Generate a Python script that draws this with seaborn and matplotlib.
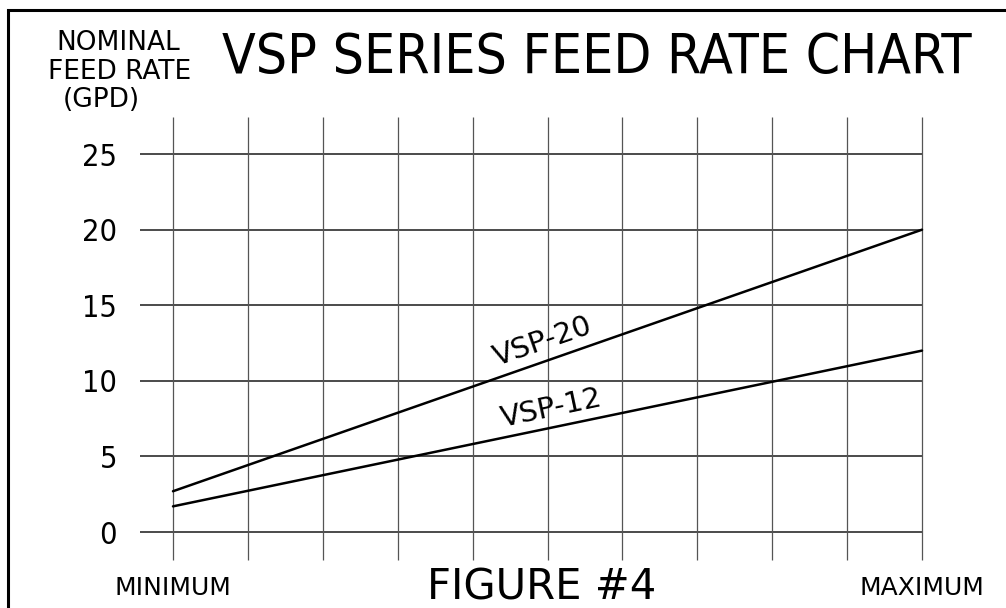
import numpy as np
import pandas as pd
import seaborn as sns
import matplotlib.pyplot as plt
from matplotlib.patches import Rectangle

# chart values
setting = [0, 10]                  # dial position, MINIMUM .. MAXIMUM
vsp20 = [2.7, 20.0]                # GPD
vsp12 = [1.7, 12.0]                # GPD
models = ["VSP-20", "VSP-12"]
y_ticks = [0, 5, 10, 15, 20, 25]
x_grid = list(range(11))
x_tick_labels = ["MINIMUM", "MAXIMUM"]

df = pd.DataFrame({
    "setting": setting * 2,
    "gpd": vsp20 + vsp12,
    "model": [models[0]] * 2 + [models[1]] * 2,
})

sns.set_style("white")
plt.rcParams["font.family"] = ["DejaVu Sans"]
plt.rcParams["text.color"] = "black"
plt.rcParams["xtick.color"] = "black"
plt.rcParams["ytick.color"] = "black"

fig = plt.figure(figsize=(10.06, 6.08), dpi=100)
ax = fig.add_axes([0.1273, 0.0702, 0.8041, 0.746])

# grid, drawn by hand because rows and columns have different extents
ax.hlines(y_ticks, -0.44, 10, color="#1a1a1a", lw=1.1, zorder=1)
ax.vlines(x_grid, -1.85, 27.45, color="#555555", lw=0.9, zorder=1)

sns.lineplot(data=df, x="setting", y="gpd", hue="model",
             palette=["black", "black"], lw=1.8, legend=False, ax=ax, zorder=3)

ax.set_xlim(-0.6, 10.2)
ax.set_ylim(-2.2, 27.8)
ax.set_yticks(y_ticks)
ax.set_yticklabels([str(v) for v in y_ticks], fontsize=22, fontstretch="condensed")
ax.set_xticks([setting[0], setting[-1]])
ax.set_xticklabels(x_tick_labels, fontsize=18)
ax.tick_params(axis="y", length=0, pad=8)
ax.tick_params(axis="x", length=0, pad=8)
ax.set_xlabel("")
ax.set_ylabel("")
for s in ax.spines.values():
    s.set_visible(False)

# line labels
ax.text(4.94, 12.6, models[0], rotation=19, ha="center", va="center", fontsize=21)
ax.text(5.05, 8.2, models[1], rotation=12, ha="center", va="center", fontsize=21)

# titles and captions
fig.text(597 / 1006, 1 - 73 / 608, "VSP SERIES FEED RATE CHART",
         ha="center", va="baseline", fontsize=39.5, fontstretch="condensed")
fig.text(118 / 1006, 1 - 50 / 608, "NOMINAL", ha="center", va="baseline", fontsize=19)
fig.text(120 / 1006, 1 - 79 / 608, "FEED RATE", ha="center", va="baseline", fontsize=19)
fig.text(101 / 1006, 1 - 107 / 608, "(GPD)", ha="center", va="baseline", fontsize=19)
fig.text(542 / 1006, 1 - 600 / 608, "FIGURE #4", ha="center", va="baseline", fontsize=30)

# drawing border (right and bottom edges run off the page)
fig.add_artist(Rectangle((8 / 1006, -0.2), 1.2, 0.2 + (608 - 10) / 608,
                         transform=fig.transFigure, fill=False,
                         edgecolor="black", lw=2.2))

fig.savefig("out.png", dpi=100)
